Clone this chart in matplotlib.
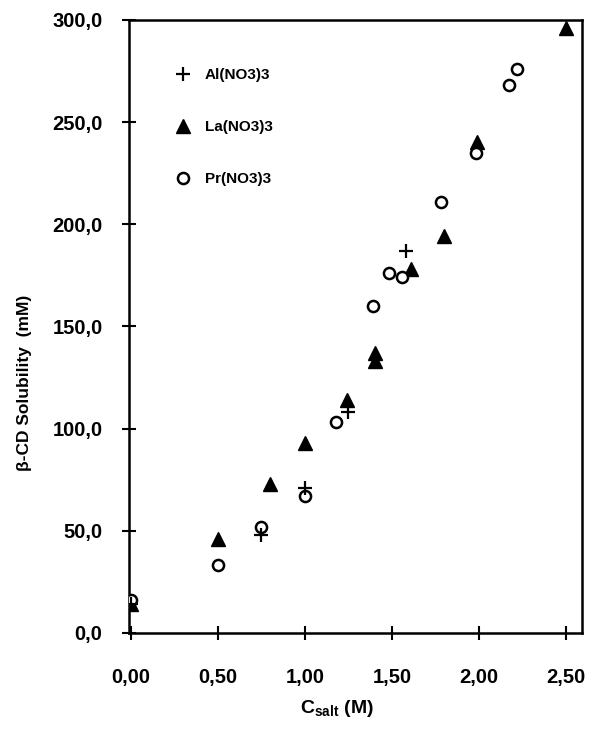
import matplotlib
matplotlib.use("Agg")
import matplotlib.pyplot as plt

plt.rcParams['font.family'] = ['Liberation Sans', 'DejaVu Sans']

# data
al_x = [0.0, 0.75, 1.0, 1.25, 1.58]
al_y = [14, 48, 71, 108, 187]

la_x = [0.0, 0.5, 0.8, 1.0, 1.24, 1.4, 1.4, 1.61, 1.8, 1.99, 2.5]
la_y = [14, 46, 73, 93, 114, 137, 133, 178, 194, 240, 296]

pr_x = [0.0, 0.5, 0.75, 1.0, 1.18, 1.39, 1.48, 1.56, 1.78, 1.98, 2.17, 2.22]
pr_y = [16, 33, 52, 67, 103, 160, 176, 174, 211, 235, 268, 276]

xticks = [0.0, 0.5, 1.0, 1.5, 2.0, 2.5]
xlabels = ["0,00", "0,50", "1,00", "1,50", "2,00", "2,50"]
yticks = [0, 50, 100, 150, 200, 250, 300]
ylabels = ["0,0", "50,0", "100,0", "150,0", "200,0", "250,0", "300,0"]

fig = plt.figure(figsize=(5.89, 7.35), dpi=100)
ax = fig.add_axes([0.219, 0.139, 0.769, 0.834])

ax.plot(la_x, la_y, '^', color='black', ms=10, label='La(NO3)3', zorder=3)
ax.plot(pr_x, pr_y, 'o', mfc='white', mec='black', mew=1.8, ms=8, label='Pr(NO3)3', zorder=4)
ax.plot(al_x, al_y, '+', color='black', mew=1.6, ms=10, label='Al(NO3)3', zorder=5)

ax.set_xlim(-0.01, 2.59)
ax.set_ylim(0, 300)
ax.set_xticks(xticks)
ax.set_xticklabels(xlabels, fontsize=14.5, fontweight='bold')
ax.set_yticks(yticks)
ax.set_yticklabels(ylabels, fontsize=14.5, fontweight='bold')
ax.tick_params(direction='inout', length=10, width=1.5)
ax.tick_params(axis='y', pad=14)
ax.tick_params(axis='x', pad=20)
for s in ax.spines.values():
    s.set_linewidth(1.8)

ax.set_xlabel("C$_{\\mathregular{salt}}$ (M)", fontsize=14, fontweight='bold')
ax.xaxis.set_label_coords(0.459, -0.107)
ax.set_ylabel("\u03b2-CD Solubility  (mM)", fontsize=12.5, fontweight='bold')
ax.yaxis.set_label_coords(-0.214, 0.408)

handles, labels = ax.get_legend_handles_labels()
order = [2, 0, 1]
ax.legend([handles[i] for i in order], [labels[i] for i in order],
          loc='upper left', bbox_to_anchor=(0.073, 0.944), frameon=False,
          labelspacing=2.5, handletextpad=0.9, handlelength=1.0,
          prop={'size': 11, 'weight': 'bold'})

fig.savefig("out.png", dpi=100)
